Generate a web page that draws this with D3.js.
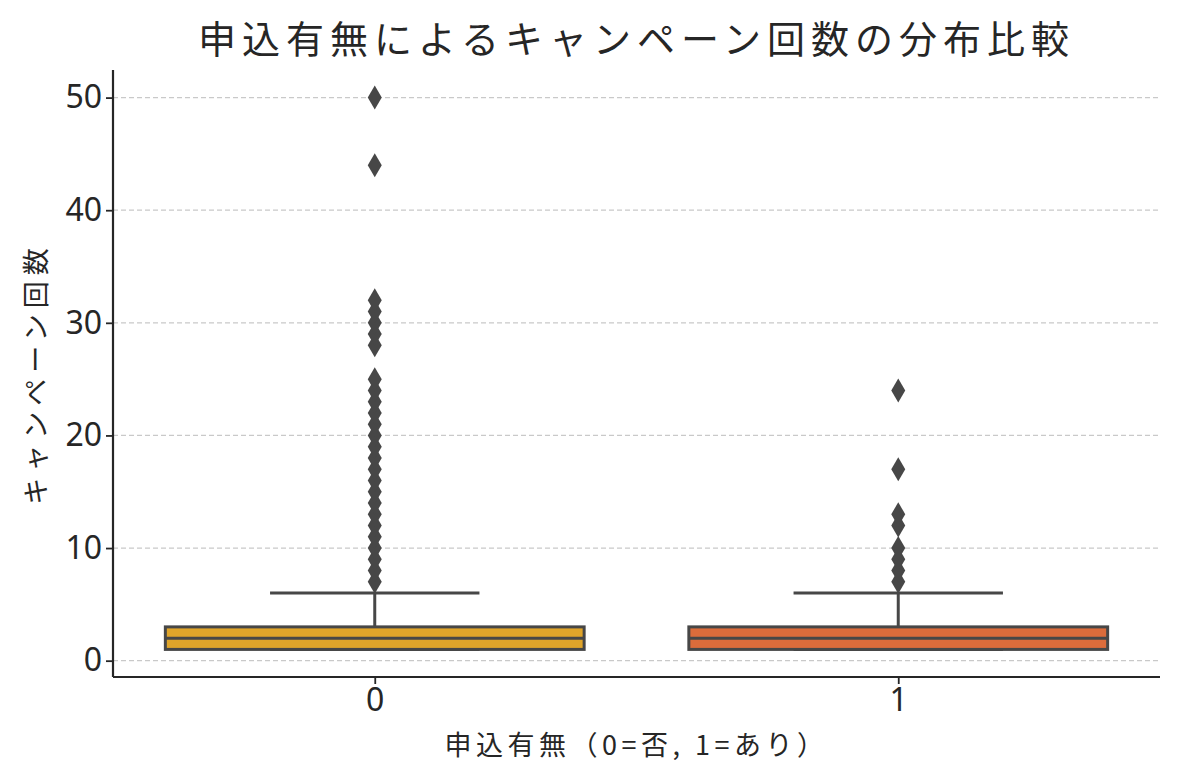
<!DOCTYPE html>
<html>
<head>
<meta charset="utf-8">
<script src="https://cdn.jsdelivr.net/npm/d3@7"></script>
<style>
  body { margin: 0; background: #fff; }
  text { font-family: "Noto Sans CJK JP", "Noto Sans", sans-serif; fill: #262626; }
</style>
</head>
<body>
<svg id="chart" width="1180" height="780"></svg>
<script>
// groups on the x axis
var categories = ["0", "1"];
var boxColors = ["#e0a52a", "#dc6c3b"];
// box stats: q1, median, q3, whisker low, whisker high
var q1 = [1, 1];
var median = [2, 2];
var q3 = [3, 3];
var whiskerLow = [1, 1];
var whiskerHigh = [6, 6];
// outlier values per group
var outliers0 = [7, 8, 9, 10, 11, 12, 13, 14, 15, 16, 17, 18, 19, 20, 21, 22, 23, 24, 25, 28, 29, 30, 31, 32, 44, 50];
var outliers1 = [7, 8, 9, 10, 12, 13, 17, 24];
var yTicks = [0, 10, 20, 30, 40, 50];

var svg = d3.select("#chart"),
    margin = {top: 70, right: 20, bottom: 103, left: 113},
    width = +svg.attr("width") - margin.left - margin.right,
    height = +svg.attr("height") - margin.top - margin.bottom,
    g = svg.append("g").attr("transform", "translate(" + margin.left + "," + margin.top + ")");

var x = d3.scaleLinear().domain([-0.5, 1.5]).range([0, width]);
var y = d3.scaleLinear().domain([-1.45, 52.45]).range([height, 0]);

var edge = "#474747";
var boxW = 0.8, capW = 0.4;

// grid
g.append("g")
  .selectAll("line")
  .data(yTicks)
  .enter().append("line")
    .attr("x1", 0)
    .attr("x2", width)
    .attr("y1", function(d) { return y(d); })
    .attr("y2", function(d) { return y(d); })
    .attr("stroke", "#c9c9c9")
    .attr("stroke-width", 1.2)
    .attr("stroke-dasharray", "5,3");

var data = categories.map(function(c, i) {
  return {cat: c, i: i, q1: q1[i], med: median[i], q3: q3[i],
          lo: whiskerLow[i], hi: whiskerHigh[i],
          out: i === 0 ? outliers0 : outliers1, color: boxColors[i]};
});

var box = g.selectAll(".box")
  .data(data)
  .enter().append("g")
    .attr("class", "box");

// whisker lines
box.append("line")
  .attr("x1", function(d) { return x(d.i); })
  .attr("x2", function(d) { return x(d.i); })
  .attr("y1", function(d) { return y(d.q3); })
  .attr("y2", function(d) { return y(d.hi); })
  .attr("stroke", edge).attr("stroke-width", 3);
box.append("line")
  .attr("x1", function(d) { return x(d.i); })
  .attr("x2", function(d) { return x(d.i); })
  .attr("y1", function(d) { return y(d.q1); })
  .attr("y2", function(d) { return y(d.lo); })
  .attr("stroke", edge).attr("stroke-width", 3);

// caps
box.append("line")
  .attr("x1", function(d) { return x(d.i - capW / 2); })
  .attr("x2", function(d) { return x(d.i + capW / 2); })
  .attr("y1", function(d) { return y(d.hi); })
  .attr("y2", function(d) { return y(d.hi); })
  .attr("stroke", edge).attr("stroke-width", 3);
box.append("line")
  .attr("x1", function(d) { return x(d.i - capW / 2); })
  .attr("x2", function(d) { return x(d.i + capW / 2); })
  .attr("y1", function(d) { return y(d.lo); })
  .attr("y2", function(d) { return y(d.lo); })
  .attr("stroke", edge).attr("stroke-width", 3);

// box body
box.append("rect")
  .attr("x", function(d) { return x(d.i - boxW / 2); })
  .attr("width", function(d) { return x(d.i + boxW / 2) - x(d.i - boxW / 2); })
  .attr("y", function(d) { return y(d.q3); })
  .attr("height", function(d) { return y(d.q1) - y(d.q3); })
  .attr("fill", function(d) { return d.color; })
  .attr("stroke", edge).attr("stroke-width", 3);

// median
box.append("line")
  .attr("x1", function(d) { return x(d.i - boxW / 2); })
  .attr("x2", function(d) { return x(d.i + boxW / 2); })
  .attr("y1", function(d) { return y(d.med); })
  .attr("y2", function(d) { return y(d.med); })
  .attr("stroke", edge).attr("stroke-width", 3);

// outliers as thin diamonds
box.selectAll("path")
  .data(function(d) { return d.out.map(function(v) { return {i: d.i, v: v}; }); })
  .enter().append("path")
    .attr("d", "M0,-12L7,0L0,12L-7,0Z")
    .attr("transform", function(d) { return "translate(" + x(d.i) + "," + y(d.v) + ")"; })
    .attr("fill", edge);

// axes
var xAxis = g.append("g")
  .attr("transform", "translate(0," + height + ")")
  .call(d3.axisBottom(x).tickValues([0, 1]).tickFormat(function(d) { return categories[d]; }).tickSizeOuter(0).tickSize(7).tickPadding(4));
var yAxis = g.append("g")
  .call(d3.axisLeft(y).tickValues(yTicks).tickSizeOuter(0).tickSize(7).tickPadding(4));

[xAxis, yAxis].forEach(function(a) {
  a.select(".domain").attr("stroke", "#262626").attr("stroke-width", 2.2);
  a.selectAll(".tick line").attr("stroke", "#262626").attr("stroke-width", 1.8);
  a.selectAll(".tick text").attr("font-size", 32).attr("fill", "#262626")
    .style("font-family", "'Noto Sans', 'Noto Sans CJK JP', sans-serif");
});
yAxis.select(".domain").attr("d", "M0," + height + "V0");
xAxis.select(".domain").attr("d", "M0,0H" + width);

// title and labels
svg.append("text")
  .attr("x", margin.left + width / 2)
  .attr("y", 53)
  .attr("text-anchor", "middle")
  .attr("font-size", 38)
  .attr("letter-spacing", 6)
  .text("申込有無によるキャンペーン回数の分布比較");

svg.append("text")
  .attr("x", margin.left + width / 2)
  .attr("y", 755)
  .attr("text-anchor", "middle")
  .attr("font-size", 27)
  .attr("letter-spacing", 4.5)
  .text("申込有無（0=否, 1=あり）");

svg.append("text")
  .attr("transform", "translate(46," + (margin.top + height / 2) + ") rotate(-90)")
  .attr("text-anchor", "middle")
  .attr("font-size", 27)
  .attr("letter-spacing", 6)
  .text("キャンペーン回数");
</script>
</body>
</html>
